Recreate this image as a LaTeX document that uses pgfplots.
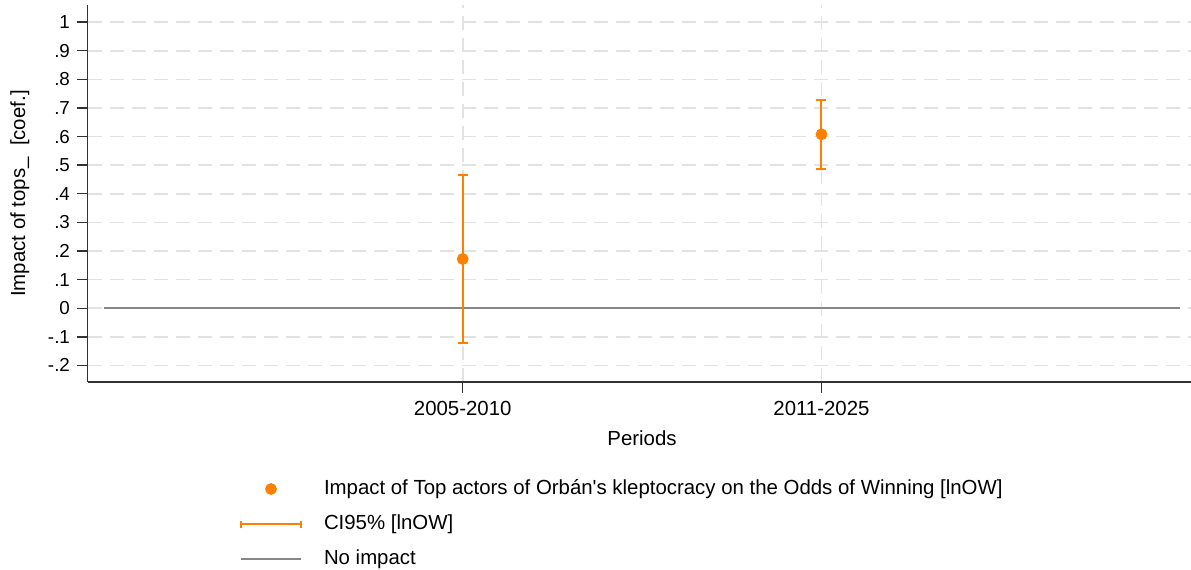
\documentclass[border=0pt]{standalone}
\usepackage{fontspec}
\setmainfont{Liberation Sans}
\usepackage{pgfplots}
\pgfplotsset{compat=1.18}
\newcommand{\straightquote}{\XeTeXglyph\XeTeXcharglyph"0027\relax}
\definecolor{ciorange}{RGB}{255,128,0}
\definecolor{zerogray}{RGB}{135,135,135}
\definecolor{gridgray}{RGB}{226,226,226}
\definecolor{axisdark}{RGB}{50,50,50}
\begin{document}
\begin{tikzpicture}
\begin{axis}[
  at={(43.75pt,93.5pt)}, anchor=south west,
  scale only axis, width=551.75pt, height=188.5pt,
  xmin=-0.046, xmax=3.03, ymin=-0.258, ymax=1.06,
  axis x line*=bottom, axis y line*=left,
  axis line style={axisdark, line width=0.7pt, -},
  every outer x axis line/.append style={-},
  every outer y axis line/.append style={-},
  xtick={1,2}, xticklabels={2005-2010,2011-2025},
  ytick={-0.2,-0.1,0,0.1,0.2,0.3,0.4,0.5,0.6,0.7,0.8,0.9,1},
  yticklabels={-.2,-.1,0,.1,.2,.3,.4,.5,.6,.7,.8,.9,1},
  /pgf/number format/assume math mode=true,
  tick align=outside, major tick length=5.25pt,
  tick style={axisdark, line width=0.7pt},
  xmajorgrids, ymajorgrids,
  major grid style={gridgray, line width=0.8pt, dash pattern=on 7pt off 4pt},
  xticklabel style={font=\fontsize{10.2}{12}\selectfont, yshift=-1pt},
  yticklabel style={font=\fontsize{9.4}{11}\selectfont},
  xlabel={Periods},
  xlabel style={at={(axis description cs:0.5025,-0.1485)}, anchor=center, font=\fontsize{10.2}{12}\selectfont},
  ylabel={Impact of tops\_\ \ [coef.]},
  ylabel style={at={(axis description cs:-0.0612,0.5)}, anchor=center, font=\fontsize{10.2}{12}\selectfont},
  legend style={at={(axis description cs:0.1382,-0.2573)}, anchor=north west, draw=none, fill=none,
    inner sep=0pt, outer sep=0pt, row sep=7.5pt, column sep=11pt,
    font=\fontsize{10.2}{12}\selectfont,
    nodes={inner sep=0pt, text height=7.5pt, text depth=2.5pt}},
  legend cell align=left,
]
\addplot[forget plot, zerogray, line width=1pt] coordinates {(0,0) (3,0)};
\addplot[forget plot, ciorange, only marks, mark=none,
  error bars/.cd, y dir=both, y explicit,
  error bar style={ciorange, line width=1pt},
  error mark options={ciorange, line width=1pt, rotate=90, mark size=2.5pt}]
  coordinates {(1,0.172) += (0,0.292) -= (0,0.292)
               (2,0.608) += (0,0.120) -= (0,0.122)};
\addplot[only marks, mark=*, mark size=2.75pt, ciorange,
  mark options={draw=ciorange, fill=ciorange},
  legend image code/.code={\path[draw=none, fill=none] (0pt,0pt) rectangle (30pt,0.1pt); \fill[ciorange] (15pt,0pt) circle (2.75pt);}]
  coordinates {(1,0.172) (2,0.608)};
\addlegendentry{Impact of Top actors of Orbán\straightquote s kleptocracy on the Odds of Winning [lnOW]}
\addlegendimage{legend image code/.code={\draw[ciorange, line width=1pt] (0pt,0pt) -- (30pt,0pt);
  \draw[ciorange, line width=1pt] (0pt,-1.75pt) -- (0pt,1.75pt) (30pt,-1.75pt) -- (30pt,1.75pt);}}
\addlegendentry{CI95\% [lnOW]}
\addlegendimage{legend image code/.code={\draw[zerogray, line width=1pt] (0pt,0pt) -- (30pt,0pt);}}
\addlegendentry{No impact}
\end{axis}
\pgfresetboundingbox
\path (0,0) rectangle (595.5pt,284.5pt);
\end{tikzpicture}
\end{document}
